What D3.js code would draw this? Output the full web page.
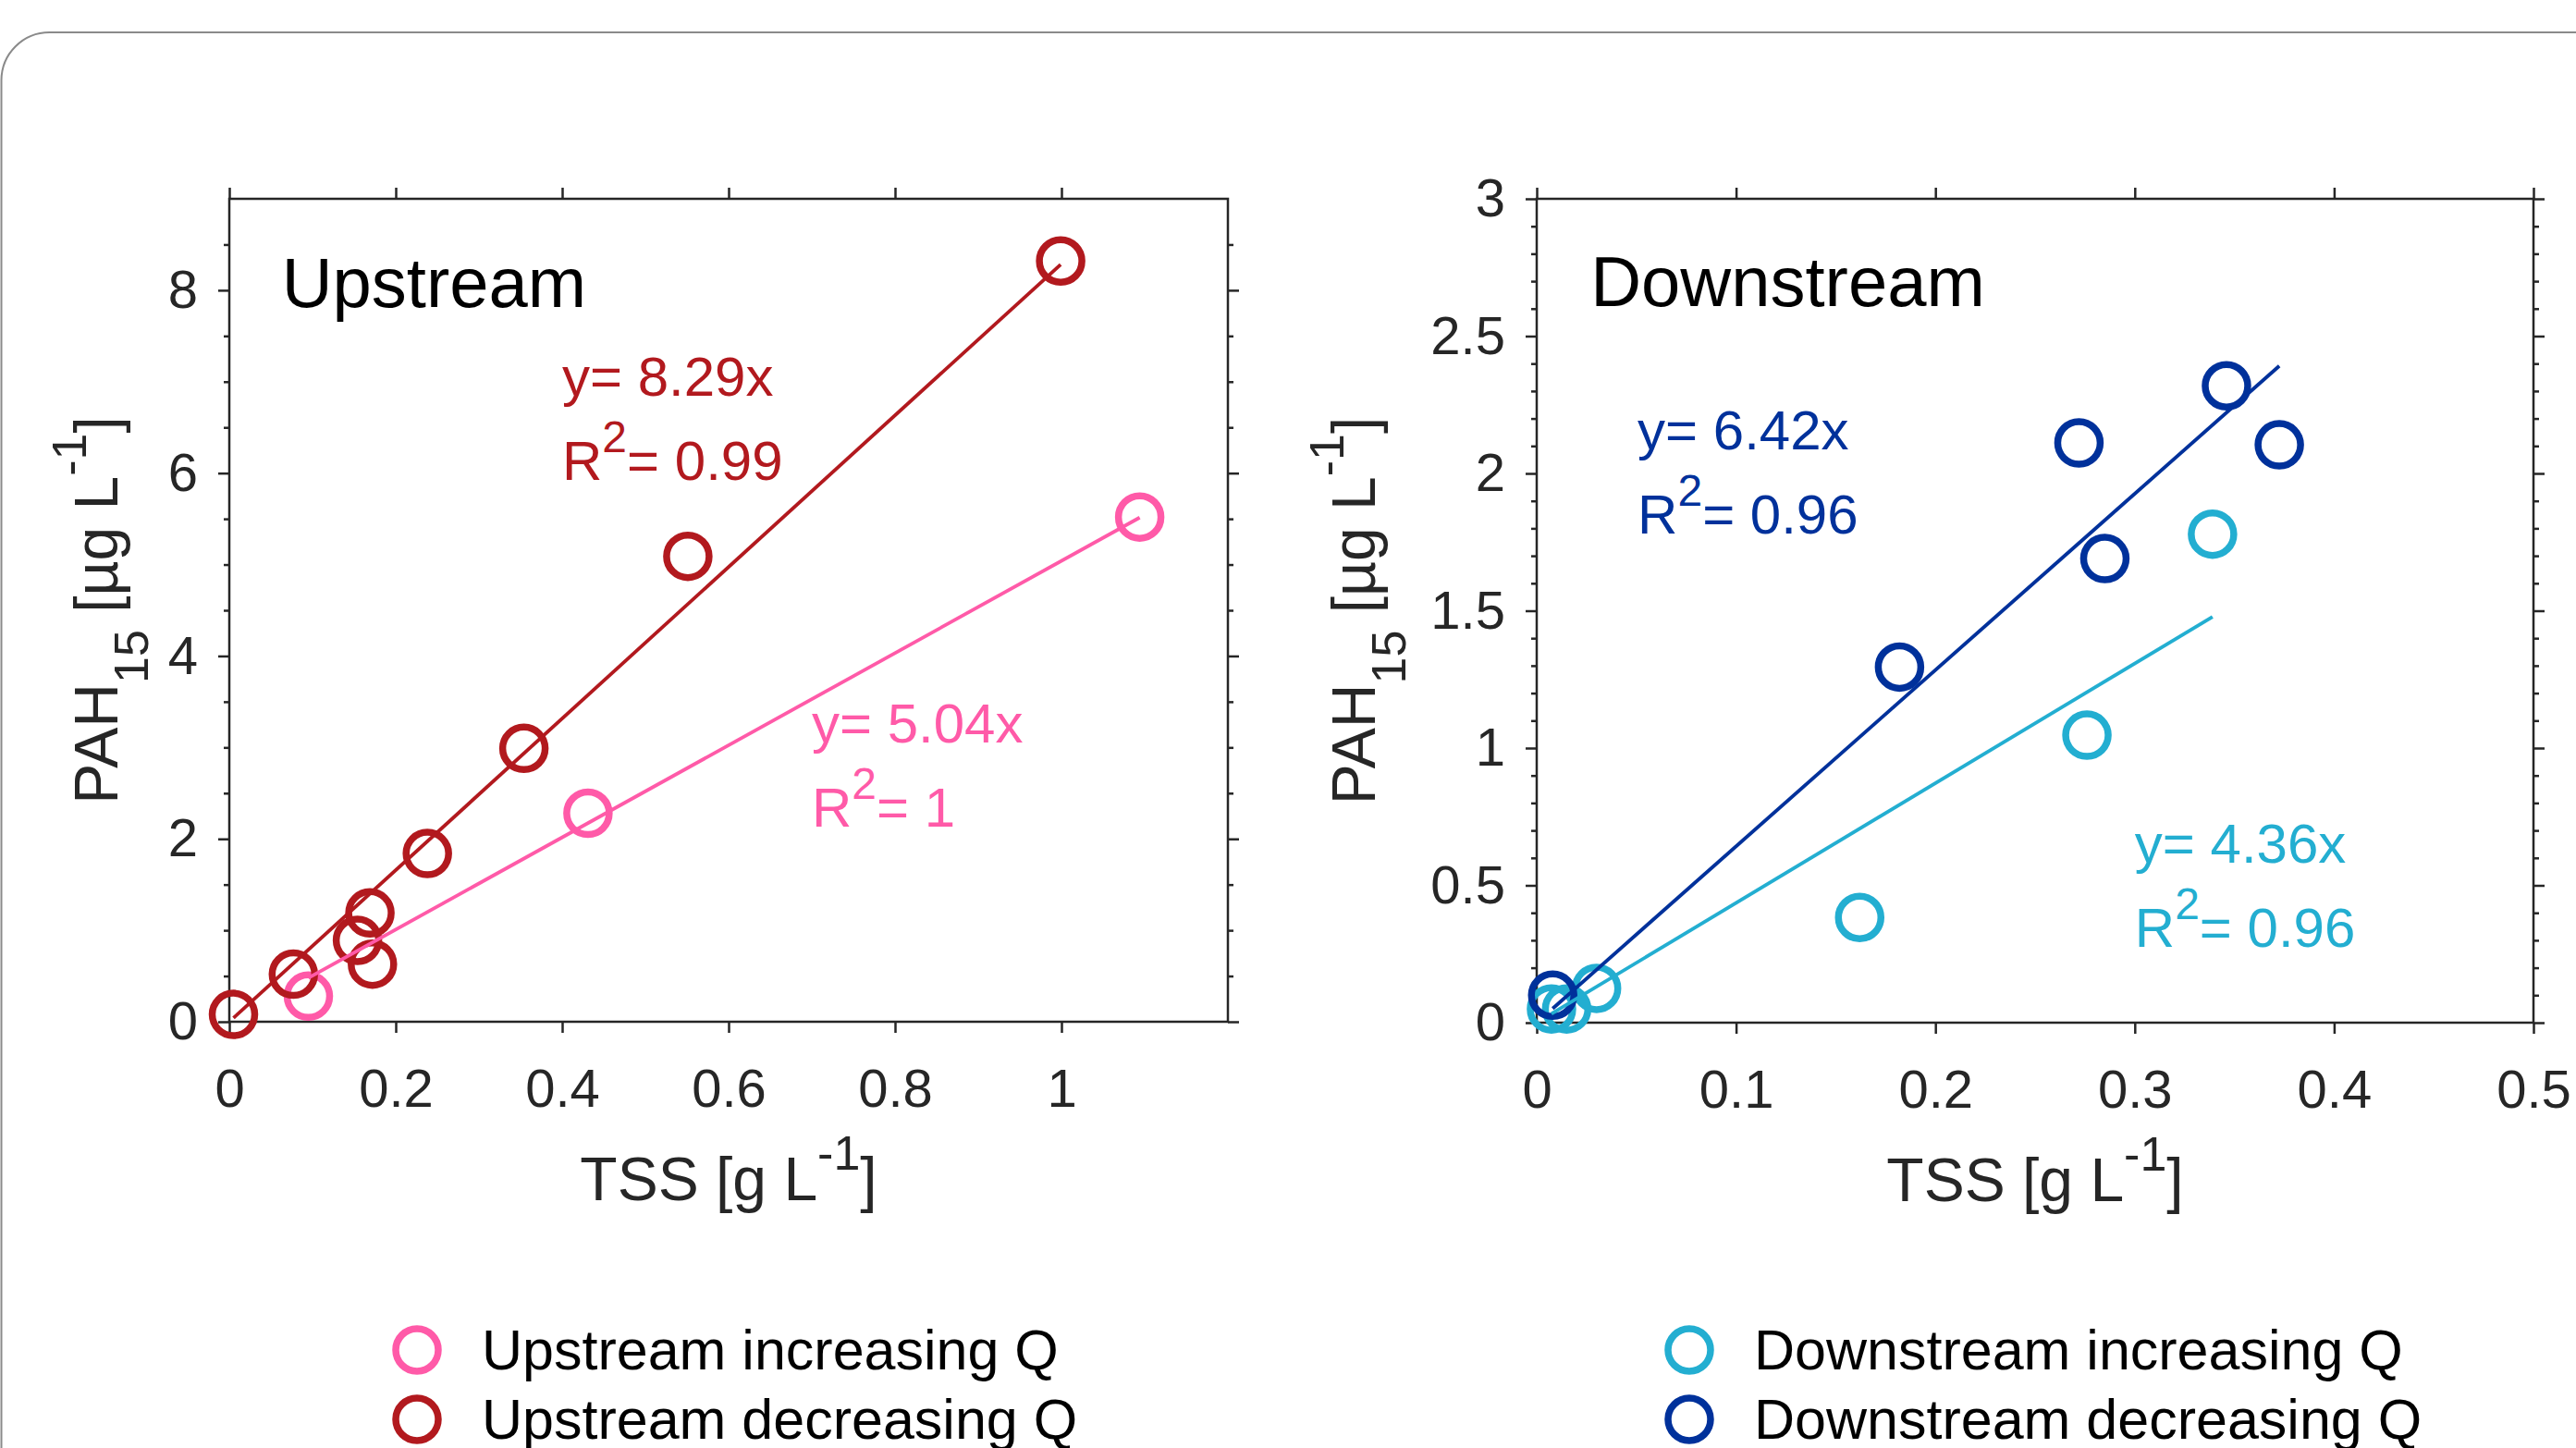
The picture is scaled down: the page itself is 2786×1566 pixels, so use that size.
<!DOCTYPE html>
<html>
<head>
<meta charset="utf-8">
<script src="https://cdn.jsdelivr.net/npm/d3@7"></script>
<style>
  body { margin: 0; background: #fff; }
  svg { display: block; }
  text { font-family: "Liberation Sans", Arial, sans-serif; }
</style>
</head>
<body>
<svg id="chart" width="2786" height="1566"></svg>
<script>
// values: TSS [g/L] vs PAH15 [ug/L]
const upIncTSS = [0.095, 0.431, 1.094];
const upIncPAH = [0.28, 2.28, 5.52];
const upDecTSS = [0.005, 0.077, 0.154, 0.169, 0.172, 0.238, 0.354, 0.551, 0.999];
const upDecPAH = [0.08, 0.52, 0.89, 1.19, 0.63, 1.84, 2.99, 5.09, 8.32];

const downIncTSS = [0.0074, 0.015, 0.030, 0.162, 0.276, 0.339];
const downIncPAH = [0.05, 0.05, 0.125, 0.383, 1.047, 1.779];
const downDecTSS = [0.008, 0.182, 0.272, 0.285, 0.346, 0.3725];
const downDecPAH = [0.10, 1.295, 2.111, 1.690, 2.319, 2.104];

// fitted slopes and R2 as printed
const upIncFit = { slope: 5.04, r2: "1" };
const upDecFit = { slope: 8.29, r2: "0.99" };
const downIncFit = { slope: 4.36, r2: "0.96" };
const downDecFit = { slope: 6.42, r2: "0.96" };

// ticks
const upXTicks = [0, 0.2, 0.4, 0.6, 0.8, 1];
const upYTicks = [0, 2, 4, 6, 8];
const upYMinor = [0.5, 1, 1.5, 2.5, 3, 3.5, 4.5, 5, 5.5, 6.5, 7, 7.5, 8.5];
const downXTicks = [0, 0.1, 0.2, 0.3, 0.4, 0.5];
const downYTicks = [0, 0.5, 1, 1.5, 2, 2.5, 3];
const downYMinor = [0.1, 0.2, 0.3, 0.4, 0.6, 0.7, 0.8, 0.9, 1.1, 1.2, 1.3, 1.4,
  1.6, 1.7, 1.8, 1.9, 2.1, 2.2, 2.3, 2.4, 2.6, 2.7, 2.8, 2.9];

const legendUp = ["Upstream increasing Q", "Upstream decreasing Q"];
const legendDown = ["Downstream increasing Q", "Downstream decreasing Q"];

const colors = {
  upInc: "#ff5aa8",
  upDec: "#b2191e",
  downInc: "#23aed1",
  downDec: "#00319b"
};
const axisColor = "#262626";

const svg = d3.select("#chart");

// rounded frame behind everything (cut off at right and bottom)
svg.append("rect")
  .attr("x", 1.5).attr("y", 35)
  .attr("width", 2900).attr("height", 1700)
  .attr("rx", 52).attr("ry", 52)
  .attr("fill", "none")
  .attr("stroke", "#8a8a8a")
  .attr("stroke-width", 2);

function drawPanel(p) {
  const x = d3.scaleLinear().domain(p.xDomain).range([p.left, p.right]);
  const y = d3.scaleLinear().domain(p.yDomain).range([p.bottom, p.top]);
  const g = svg.append("g");

  function styleAxis(sel) {
    sel.select(".domain").remove();
    sel.selectAll("line").attr("stroke", axisColor).attr("stroke-width", 2.5);
    sel.selectAll("text")
      .attr("fill", axisColor)
      .style("font-size", "58px")
      .style("font-family", '"Liberation Sans", Arial, sans-serif');
  }

  // ticks
  g.append("g").attr("transform", `translate(0,${p.bottom})`)
    .call(d3.axisBottom(x).tickValues(p.xTicks).tickSize(12).tickPadding(39)
      .tickFormat(d => String(d)))
    .call(styleAxis);
  g.append("g").attr("transform", `translate(0,${p.top})`)
    .call(d3.axisTop(x).tickValues(p.xTicks).tickSize(12).tickFormat(""))
    .call(styleAxis);
  g.append("g").attr("transform", `translate(${p.left},0)`)
    .call(d3.axisLeft(y).tickValues(p.yTicks).tickSize(12).tickPadding(22)
      .tickFormat(d => String(d)))
    .call(styleAxis);
  g.append("g").attr("transform", `translate(${p.left},0)`)
    .call(d3.axisLeft(y).tickValues(p.yMinor).tickSize(6).tickFormat(""))
    .call(styleAxis);
  g.append("g").attr("transform", `translate(${p.right},0)`)
    .call(d3.axisRight(y).tickValues(p.yTicks).tickSize(12).tickFormat(""))
    .call(styleAxis);
  g.append("g").attr("transform", `translate(${p.right},0)`)
    .call(d3.axisRight(y).tickValues(p.yMinor).tickSize(6).tickFormat(""))
    .call(styleAxis);

  // box
  g.append("rect")
    .attr("x", p.left).attr("y", p.top)
    .attr("width", p.right - p.left).attr("height", p.bottom - p.top)
    .attr("fill", "none").attr("stroke", axisColor).attr("stroke-width", 2.5);

  // markers
  p.series.forEach(s => {
    g.append("g").selectAll("circle")
      .data(d3.zip(s.tss, s.pah))
      .join("circle")
        .attr("cx", d => x(d[0]))
        .attr("cy", d => y(d[1]))
        .attr("r", 23)
        .attr("fill", "none")
        .attr("stroke", s.color)
        .attr("stroke-width", 7.5);
  });

  // regression lines through origin, over the data range
  p.series.forEach(s => {
    const [x0, x1] = d3.extent(s.tss);
    g.append("line")
      .attr("x1", x(x0)).attr("y1", y(s.fit.slope * x0))
      .attr("x2", x(x1)).attr("y2", y(s.fit.slope * x1))
      .attr("stroke", s.color).attr("stroke-width", 3.8);
  });

  // equations
  p.series.forEach(s => {
    const t = g.append("text")
      .attr("x", x(s.eq[0])).attr("y", y(s.eq[1]))
      .attr("fill", s.color).style("font-size", "60px");
    t.append("tspan").text(`y= ${s.fit.slope.toFixed(2)}x`);
    const t2 = g.append("text")
      .attr("x", x(s.eq[0])).attr("y", y(s.eq[1]) + 91)
      .attr("fill", s.color).style("font-size", "60px");
    t2.append("tspan").text("R");
    t2.append("tspan").attr("dy", -30).style("font-size", "48px").text("2");
    t2.append("tspan").attr("dy", 30).text(`= ${s.fit.r2}`);
  });

  // panel title
  g.append("text")
    .attr("x", x(p.title[1])).attr("y", y(p.title[2]))
    .attr("fill", "#000").style("font-size", "76px")
    .text(p.title[0]);

  // axis labels
  const cx = (p.left + p.right) / 2;
  const xl = g.append("text")
    .attr("x", cx).attr("y", p.bottom + 193)
    .attr("text-anchor", "middle").attr("fill", axisColor)
    .style("font-size", "66px");
  xl.append("tspan").text("TSS [g L");
  xl.append("tspan").attr("dy", -33).style("font-size", "52px").text("-1");
  xl.append("tspan").attr("dy", 33).text("]");

  const cy = (p.top + p.bottom) / 2;
  const yl = g.append("text")
    .attr("transform", `translate(${p.left - p.yLabelOffset},${cy}) rotate(-90)`)
    .attr("text-anchor", "middle").attr("fill", axisColor)
    .style("font-size", "66px");
  yl.append("tspan").text("PAH");
  yl.append("tspan").attr("dy", 33).style("font-size", "52px").text("15");
  yl.append("tspan").attr("dy", -33).text(" [µg L");
  yl.append("tspan").attr("dy", -34).style("font-size", "52px").text("-1");
  yl.append("tspan").attr("dy", 34).text("]");

  // legend (second row is cut by the bottom edge, as in the original)
  const lg = svg.append("g");
  p.legend.forEach((label, i) => {
    const cyL = 1460 + i * 75;
    lg.append("circle")
      .attr("cx", p.legendX).attr("cy", cyL).attr("r", 23)
      .attr("fill", "none").attr("stroke", p.series[i].color).attr("stroke-width", 7.5);
    lg.append("text")
      .attr("x", p.legendX + 70).attr("y", cyL + 21)
      .attr("fill", "#000").style("font-size", "61px")
      .text(label);
  });
}

drawPanel({
  left: 248, right: 1328, top: 215, bottom: 1105,
  xDomain: [0, 1.2], yDomain: [0, 9],
  xTicks: upXTicks, yTicks: upYTicks, yMinor: upYMinor,
  yLabelOffset: 121,
  title: ["Upstream", 0.063, 7.82],
  legend: legendUp, legendX: 451,
  series: [
    { tss: upIncTSS, pah: upIncPAH, fit: upIncFit, color: colors.upInc, eq: [0.70, 3.05] },
    { tss: upDecTSS, pah: upDecPAH, fit: upDecFit, color: colors.upDec, eq: [0.40, 6.85] }
  ]
});

drawPanel({
  left: 1662, right: 2740, top: 215, bottom: 1106,
  xDomain: [0, 0.5], yDomain: [0, 3],
  xTicks: downXTicks, yTicks: downYTicks, yMinor: downYMinor,
  yLabelOffset: 175,
  title: ["Downstream", 0.027, 2.61],
  legend: legendDown, legendX: 1827,
  series: [
    { tss: downIncTSS, pah: downIncPAH, fit: downIncFit, color: colors.downInc, eq: [0.300, 0.582] },
    { tss: downDecTSS, pah: downDecPAH, fit: downDecFit, color: colors.downDec, eq: [0.0506, 2.088] }
  ]
});
</script>
</body>
</html>
